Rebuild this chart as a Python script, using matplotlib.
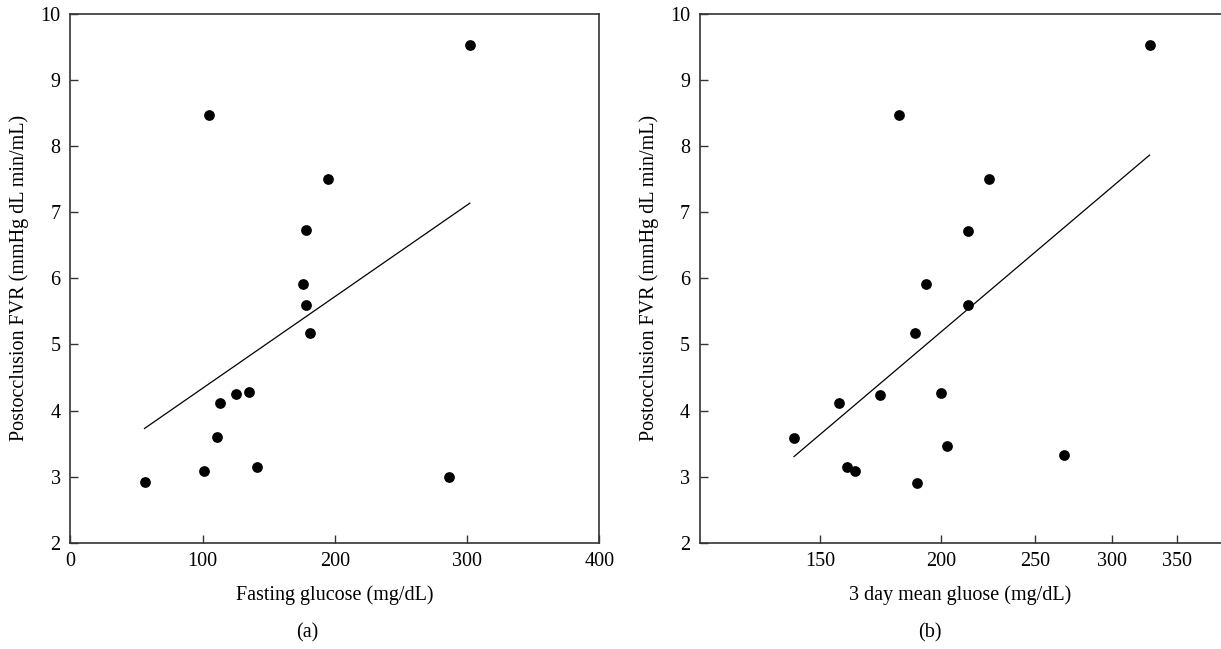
import numpy as np
import matplotlib
matplotlib.use("Agg")
import matplotlib.pyplot as plt
from matplotlib.ticker import FixedLocator, FixedFormatter, NullLocator

plt.rcParams['font.family'] = ['Liberation Serif', 'DejaVu Serif']
plt.rcParams['font.size'] = 14.5

# panel (a): fasting glucose vs postocclusion FVR
fasting = [302, 105, 195, 178, 176, 178, 181, 135, 125, 113, 111, 101, 141, 56, 286]
fvr_a = [9.53, 8.47, 7.50, 6.73, 5.92, 5.59, 5.17, 4.28, 4.25, 4.11, 3.60, 3.09, 3.15, 2.92, 3.00]

# panel (b): 3 day mean glucose vs postocclusion FVR
mean3 = [328, 181, 224, 213, 193, 213, 188, 200, 173, 157, 141, 160, 163, 189, 203, 268]
fvr_b = [9.53, 8.47, 7.50, 6.72, 5.91, 5.59, 5.17, 4.27, 4.24, 4.11, 3.59, 3.15, 3.08, 2.91, 3.47, 3.33]

yticks = [2, 3, 4, 5, 6, 7, 8, 9, 10]
xticks_a = [0, 100, 200, 300, 400]
xticks_b = [150, 200, 250, 300, 350]

ylab = 'Postocclusion FVR (mmHg dL min/mL)'
spine_col = '#333333'

fig = plt.figure(figsize=(12.21, 6.49), dpi=100)
ax1 = fig.add_axes([0.0577, 0.1638, 0.4332, 0.8146])
ax2 = fig.add_axes([0.5730, 0.1638, 0.4270, 0.8146])

def style(ax):
    for s in ax.spines.values():
        s.set_color(spine_col)
        s.set_linewidth(1.2)
    ax.tick_params(direction='in', length=6, width=1.0, color=spine_col,
                   top=False, right=False, pad=7, labelsize=14.5)
    ax.set_ylim(2, 10)
    ax.set_yticks(yticks)
    ax.set_ylabel(ylab, labelpad=8)

# (a)
x = np.array(fasting, dtype=float)
y = np.array(fvr_a)
ax1.scatter(x, y, s=60, color='black', zorder=3, linewidths=0)
k, b = np.polyfit(x, y, 1)
xs = np.array([x.min(), x.max()])
ax1.plot(xs, k * xs + b, color='black', lw=0.9)
ax1.set_xlim(0, 400)
ax1.set_xticks(xticks_a)
ax1.set_xlabel('Fasting glucose (mg/dL)', labelpad=10)
style(ax1)

# (b) log scaled x axis, fit against log10(x)
x = np.array(mean3, dtype=float)
y = np.array(fvr_b)
ax2.scatter(x, y, s=60, color='black', zorder=3, linewidths=0)
k, b = np.polyfit(np.log10(x), y, 1)
xs = np.array([x.min(), x.max()])
ax2.plot(xs, k * np.log10(xs) + b, color='black', lw=0.9)
ax2.set_xscale('log')
ax2.set_xlim(112.7, 388.6)
ax2.xaxis.set_major_locator(FixedLocator(xticks_b))
ax2.xaxis.set_major_formatter(FixedFormatter([str(t) for t in xticks_b]))
ax2.xaxis.set_minor_locator(NullLocator())
ax2.set_xlabel('3 day mean gluose (mg/dL)', labelpad=10)
style(ax2)
ax2.spines['right'].set_visible(False)

fig.text(307 / 1221, 1 - 633 / 649, '(a)', ha='center', va='center', fontsize=14.5)
fig.text(930 / 1221, 1 - 633 / 649, '(b)', ha='center', va='center', fontsize=14.5)

fig.savefig('out.png', dpi=100)
